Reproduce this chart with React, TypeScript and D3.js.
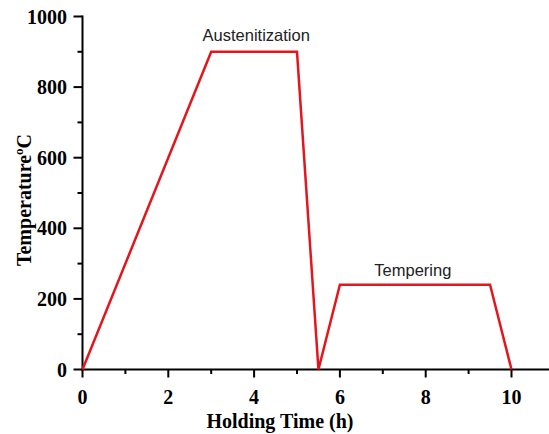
import { useMemo } from "react";
import * as d3 from "d3";

const WIDTH = 549;
const HEIGHT = 434;

// heat treatment schedule: time (h) vs temperature (°C)
const times = [0, 3, 5, 5.5, 6, 9.5, 10];
const temps = [0, 900, 900, 0, 240, 240, 0];

const xMajorTicks = [0, 2, 4, 6, 8, 10];
const xMinorTicks = [1, 3, 5, 7, 9];
const yMajorTicks = [0, 200, 400, 600, 800, 1000];
const yMinorTicks = [100, 300, 500, 700, 900];

const stageLabels = ["Austenitization", "Tempering"];
const stageLabelX = [4.05, 7.7];
const stageLabelY = [900, 240];
const stageLabelGap = [11, 8.5];

const SERIF = "'Liberation Serif', 'Times New Roman', serif";
const SANS = "'Liberation Sans', Arial, sans-serif";
const RED = "#e3161d";

export default function App() {
  const x0 = 82.5;
  const y0 = 369.5;

  const xScale = useMemo(
    () => d3.scaleLinear().domain([0, 1]).range([x0, x0 + 42.9]),
    []
  );
  const yScale = useMemo(
    () => d3.scaleLinear().domain([0, 1000]).range([y0, 16.5]),
    []
  );

  const points: [number, number][] = times.map((t, i) => [t, temps[i]]);
  const line = d3
    .line<[number, number]>()
    .x((d) => xScale(d[0]))
    .y((d) => yScale(d[1]));

  return (
    <svg
      width={WIDTH}
      height={HEIGHT}
      style={{ position: "absolute", left: 0, top: 0, background: "#fff" }}
    >
      {/* y axis */}
      <line x1={x0} x2={x0} y1={yScale(1000) - 1} y2={y0 + 1} stroke="#000" strokeWidth={2} />
      {yMajorTicks.map((t) => (
        <g key={"ym" + t}>
          <line x1={x0 - 9} x2={x0} y1={yScale(t)} y2={yScale(t)} stroke="#000" strokeWidth={2} />
          <text
            x={67}
            y={yScale(t)}
            dy="0.35em"
            textAnchor="end"
            fontFamily={SERIF}
            fontWeight="bold"
            fontSize={20}
          >
            {t}
          </text>
        </g>
      ))}
      {yMinorTicks.map((t) => (
        <line key={"yn" + t} x1={x0 - 5} x2={x0} y1={yScale(t)} y2={yScale(t)} stroke="#000" strokeWidth={2} />
      ))}

      {/* x axis */}
      <line x1={x0 - 1} x2={WIDTH} y1={y0} y2={y0} stroke="#000" strokeWidth={2} />
      {xMajorTicks.map((t) => (
        <g key={"xm" + t}>
          <line x1={xScale(t)} x2={xScale(t)} y1={y0} y2={y0 + 8} stroke="#000" strokeWidth={2} />
          <text
            x={xScale(t)}
            y={403.5}
            textAnchor="middle"
            fontFamily={SERIF}
            fontWeight="bold"
            fontSize={20}
          >
            {t}
          </text>
        </g>
      ))}
      {xMinorTicks.map((t) => (
        <line key={"xn" + t} x1={xScale(t)} x2={xScale(t)} y1={y0} y2={y0 + 4.5} stroke="#000" strokeWidth={2} />
      ))}

      {/* axis titles */}
      <text
        x={280}
        y={428}
        textAnchor="middle"
        fontFamily={SERIF}
        fontWeight="bold"
        fontSize={20}
      >
        Holding Time (h)
      </text>
      <text
        transform="translate(31,200) rotate(-90)"
        textAnchor="middle"
        fontFamily={SERIF}
        fontWeight="bold"
        fontSize={20}
      >
        Temperature
        <tspan fontSize={13} dy={-8}>o</tspan>
        <tspan dy={8}>C</tspan>
      </text>

      {/* schedule */}
      <path d={line(points) ?? ""} fill="none" stroke={RED} strokeWidth={2.5} strokeLinejoin="miter" />

      {stageLabels.map((s, i) => (
        <text
          key={s}
          x={xScale(stageLabelX[i])}
          y={yScale(stageLabelY[i]) - stageLabelGap[i]}
          textAnchor="middle"
          fontFamily={SANS}
          fontSize={16.5}
          fill="#222"
        >
          {s}
        </text>
      ))}
    </svg>
  );
}
